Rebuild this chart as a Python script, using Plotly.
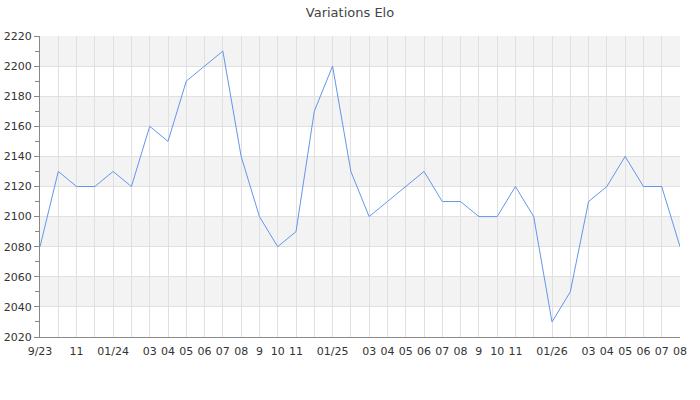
import plotly.graph_objects as go

months = ["2023-09","2023-10","2023-11","2023-12","2024-01","2024-02","2024-03","2024-04","2024-05","2024-06","2024-07","2024-08",
          "2024-09","2024-10","2024-11","2024-12","2025-01","2025-02","2025-03","2025-04","2025-05","2025-06","2025-07","2025-08",
          "2025-09","2025-10","2025-11","2025-12","2026-01","2026-02","2026-03","2026-04","2026-05","2026-06","2026-07","2026-08"]
tick_labels = ["9/23","","11","","01/24","","03","04","05","06","07","08",
               "9","10","11","","01/25","","03","04","05","06","07","08",
               "9","10","11","","01/26","","03","04","05","06","07","08"]
elo = [2080,2130,2120,2120,2130,2120,2160,2150,2190,2200,2210,2140,
       2100,2080,2090,2170,2200,2130,2100,2110,2120,2130,2110,2110,
       2100,2100,2120,2100,2030,2050,2110,2120,2140,2120,2120,2080]
y_min, y_max, y_step = 2020, 2220, 20
title = "Variations Elo"

fig = go.Figure()
fig.add_trace(go.Scatter(x=list(range(len(months))), y=elo, mode="lines",
                         line=dict(color="#6495ED", width=1), hoverinfo="y"))

# alternating bands
shapes = []
lo = y_min + y_step
while lo < y_max:
    shapes.append(dict(type="rect", xref="paper", yref="y", x0=0, x1=1, y0=lo, y1=lo + y_step,
                       fillcolor="#f3f3f3", line=dict(width=0), layer="below"))
    lo += 2 * y_step

fig.update_layout(
    width=700, height=400,
    margin=dict(l=40, r=20, t=36, b=63, autoexpand=False),
    paper_bgcolor="white", plot_bgcolor="white",
    title=dict(text=title, x=0.5, xanchor="center", y=0.97, yanchor="middle",
               font=dict(family="DejaVu Sans", size=13, color="#444")),
    font=dict(family="DejaVu Sans", size=11, color="#333"),
    showlegend=False,
    shapes=shapes,
    xaxis=dict(range=[0, len(months) - 1], tickmode="array", automargin=False,
               tickvals=list(range(len(months))), ticktext=tick_labels,
               showgrid=True, gridcolor="#e0e0e0", gridwidth=1,
               showline=True, linecolor="#888", linewidth=1,
               ticks="", zeroline=False, tickangle=0, ticklabelstandoff=4),
    yaxis=dict(range=[y_min, y_max], tickmode="linear", tick0=y_min, dtick=y_step, automargin=False,
               showgrid=True, gridcolor="#e0e0e0", gridwidth=1,
               showline=True, linecolor="#888", linewidth=1,
               ticks="outside", ticklen=5, tickcolor="#888", zeroline=False,
               minor=dict(dtick=10, ticks="outside", ticklen=4, tickcolor="#888", showgrid=False)),
)

fig.write_html("out.html", config={"displayModeBar": False},
               post_script="document.body.style.margin='0';document.body.style.overflow='hidden';")
